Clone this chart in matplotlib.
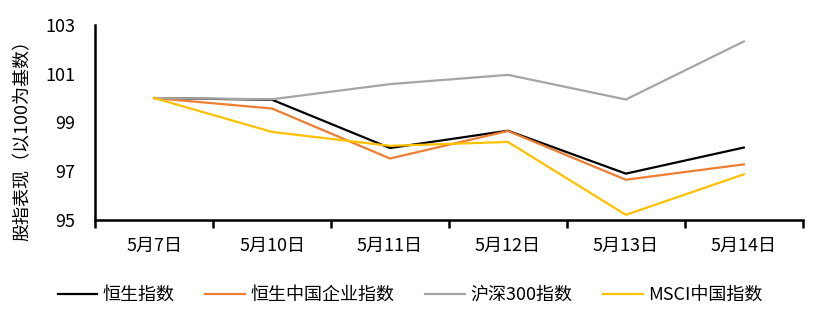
import matplotlib.pyplot as plt
import numpy as np

plt.rcParams['font.family'] = ['Noto Sans CJK SC', 'DejaVu Sans']

# 各指数以5月7日=100为基数
dates = ['5月7日', '5月10日', '5月11日', '5月12日', '5月13日', '5月14日']
hsi = [100.0, 99.93, 97.95, 98.66, 96.90, 97.97]
hscei = [100.0, 99.57, 97.52, 98.65, 96.65, 97.28]
csi300 = [100.0, 99.95, 100.57, 100.95, 99.94, 102.32]
msci_china = [100.0, 98.61, 98.04, 98.20, 95.21, 96.87]

series = [
    ('恒生指数', hsi, '#000000'),
    ('恒生中国企业指数', hscei, '#ED7D31'),
    ('沪深300指数', csi300, '#A5A5A5'),
    ('MSCI中国指数', msci_china, '#FFC000'),
]

fig = plt.figure(figsize=(8.2, 3.23), dpi=100)
ax = fig.add_axes([0.116, 0.319, 0.863, 0.604])

x = np.arange(len(dates))
for name, vals, color in series:
    ax.plot(x, vals, color=color, lw=1.6, label=name)

ax.set_xlim(-0.5, len(dates) - 0.5)
ax.set_ylim(95, 103)
ax.set_yticks([95, 97, 99, 101, 103])
ax.tick_params(axis='y', length=0, labelsize=13, pad=14)

# 类别轴：刻度线在分隔处，标签居中
ax.set_xticks(x)
ax.set_xticklabels(dates)
ax.set_xticks(np.arange(-0.5, len(dates)), minor=True)
ax.tick_params(axis='x', which='major', length=0, labelsize=13, pad=12)
ax.tick_params(axis='x', which='minor', length=6, width=1.8, direction='out')

for side in ['top', 'right']:
    ax.spines[side].set_visible(False)
ax.spines['left'].set_linewidth(1.8)
ax.spines['bottom'].set_linewidth(1.8)

ax.set_ylabel('股指表现（以100为基数）', fontsize=13)
ax.yaxis.set_label_coords(-0.09, 0.43)

ax.legend(loc='center', bbox_to_anchor=(0.445, -0.385), ncol=4, frameon=False,
          fontsize=13, handlelength=2.2, handletextpad=0.3, columnspacing=1.7)

fig.savefig('out.png', dpi=100)
